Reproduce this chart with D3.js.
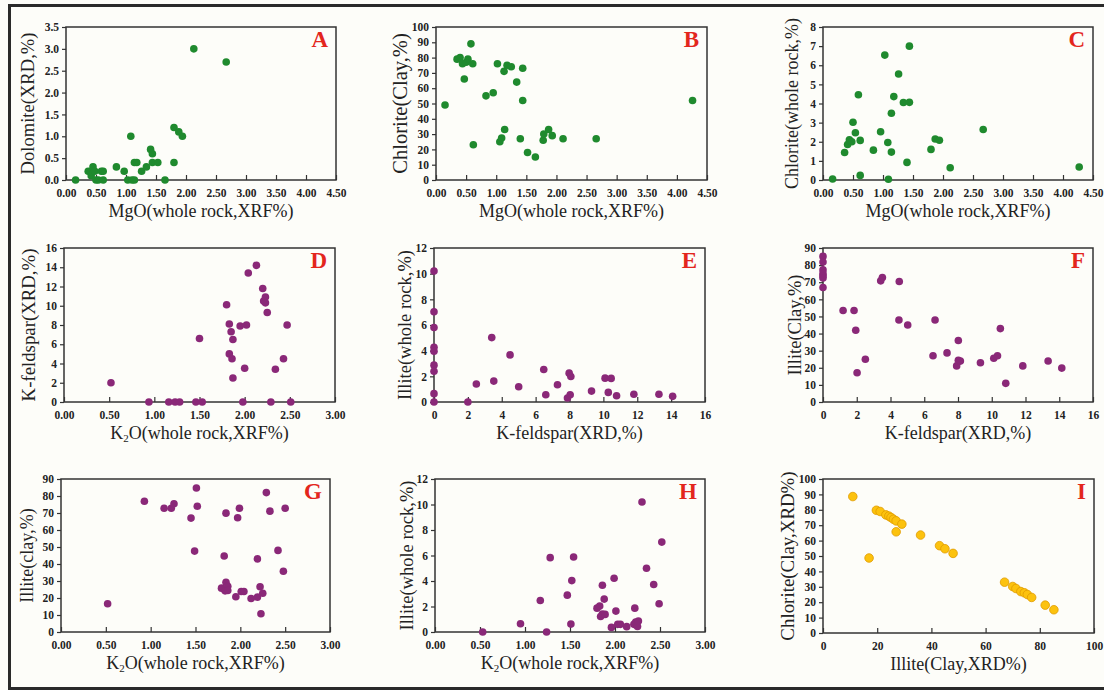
<!DOCTYPE html>
<html>
<head>
<meta charset="utf-8">
<script src="https://cdn.jsdelivr.net/npm/d3@7"></script>
<style>
  body { margin: 0; background: #fdfdf9; }
  svg { display: block; }
  text { font-family: "Liberation Serif", "Times New Roman", serif; fill: #222; }
</style>
</head>
<body>
<script>
// Panel A: MgO vs Dolomite
const aMgO = [0.16, 0.37, 0.45, 0.42, 0.48, 0.50, 0.54, 0.59, 0.62, 0.62, 0.84, 0.97, 1.03, 1.08, 1.10, 1.14, 1.14, 1.18, 1.26, 1.34, 1.41, 1.44, 1.44, 1.53, 1.65, 1.80, 1.80, 1.88, 1.94, 2.13, 2.67];
const aDolomite = [0, 0.2, 0.3, 0.1, 0.2, 0, 0, 0.2, 0.2, 0, 0.3, 0.2, 0, 1.0, 0, 0, 0.4, 0.4, 0.2, 0.3, 0.7, 0.6, 0.4, 0.4, 0, 1.2, 0.4, 1.1, 1.0, 3.0, 2.7];

// Panel B: MgO vs Chlorite (clay)
const bMgO = [0.15, 0.35, 0.40, 0.44, 0.47, 0.50, 0.53, 0.58, 0.61, 0.62, 0.83, 0.95, 1.02, 1.06, 1.09, 1.13, 1.14, 1.18, 1.25, 1.34, 1.40, 1.44, 1.44, 1.52, 1.65, 1.78, 1.79, 1.87, 1.93, 2.11, 2.66, 4.26];
const bChloriteClay = [49, 79, 80, 76, 66, 77, 79, 89, 76, 23, 55, 57, 76, 25, 27.5, 71, 33, 75, 74, 64, 27, 73, 52, 18, 15, 26, 30, 33, 29, 27, 27, 52];

// Panel C: MgO vs Chlorite (whole rock)
const cMgO = [0.16, 0.36, 0.41, 0.44, 0.48, 0.50, 0.54, 0.59, 0.62, 0.62, 0.84, 0.96, 1.03, 1.08, 1.09, 1.14, 1.14, 1.18, 1.26, 1.34, 1.40, 1.44, 1.44, 1.80, 1.87, 1.94, 2.12, 2.67, 4.27];
const cChloriteRock = [0.05, 1.44, 1.86, 2.1, 2.0, 3.02, 2.47, 4.46, 2.07, 0.24, 1.56, 2.52, 6.53, 1.96, 0.04, 1.46, 3.49, 4.36, 5.54, 4.05, 0.92, 4.06, 7.0, 1.6, 2.14, 2.08, 0.64, 2.64, 0.68];

// Panel D: K2O vs K-feldspar
const dK2O = [0.52, 0.94, 1.16, 1.23, 1.28, 1.46, 1.50, 1.53, 1.80, 1.83, 1.83, 1.85, 1.86, 1.87, 1.87, 1.95, 1.98, 2.00, 2.02, 2.04, 2.13, 2.20, 2.21, 2.23, 2.23, 2.25, 2.29, 2.34, 2.43, 2.47, 2.51];
const dKfeldspar = [2.0, 0, 0, 0, 0, 0, 6.6, 0, 10.1, 8.1, 5.0, 7.3, 4.5, 6.5, 2.5, 7.9, 0, 3.5, 8.0, 13.4, 14.2, 11.8, 10.5, 10.9, 10.3, 9.3, 0, 3.4, 4.5, 8.0, 0];

// Panel E: K-feldspar vs Illite (whole rock)
const eKfeldspar = [0, 0, 0, 0, 0, 0, 0, 0, 0, 2.0, 2.5, 3.41, 3.53, 4.49, 5.0, 6.48, 6.6, 7.29, 7.88, 7.98, 8.04, 8.08, 9.30, 10.1, 10.29, 10.46, 10.78, 11.8, 13.28, 14.09];
const eIlliteRock = [10.2, 7.03, 5.8, 4.27, 3.96, 2.87, 2.4, 0.65, 0, 0, 1.4, 5.02, 1.63, 3.67, 1.19, 2.53, 0.57, 1.34, 0.31, 2.25, 0.57, 1.99, 0.85, 1.86, 0.75, 1.84, 0.49, 0.6, 0.6, 0.44];

// Panel F: K-feldspar vs Illite (clay)
const fKfeldspar = [0, 0, 0, 0, 0, 0, 0, 1.19, 1.84, 1.94, 2.02, 2.51, 3.42, 3.52, 4.52, 4.5, 5.02, 6.52, 6.64, 7.35, 7.92, 8.02, 8.02, 8.14, 9.33, 10.12, 10.34, 10.51, 10.83, 11.84, 13.34, 14.15];
const fIlliteClay = [85.1, 81.8, 77.2, 75, 73.7, 72.5, 66.9, 53.5, 53.5, 41.9, 17.1, 25.0, 70.8, 72.7, 70.4, 47.9, 45.0, 27, 47.9, 28.7, 21.1, 35.9, 24.4, 23.9, 22.9, 25.6, 27, 42.9, 10.9, 21.1, 24.0, 19.8];

// Panel G: K2O vs Illite (clay)
const gK2O = [0.52, 0.93, 1.15, 1.23, 1.26, 1.45, 1.49, 1.51, 1.52, 1.79, 1.82, 1.83, 1.84, 1.84, 1.86, 1.86, 1.95, 1.97, 1.99, 2.01, 2.04, 2.12, 2.19, 2.19, 2.22, 2.23, 2.25, 2.29, 2.33, 2.42, 2.48, 2.50];
const gIlliteClay = [16.6, 76.9, 72.8, 72.8, 75.4, 67, 47.6, 84.7, 74, 25.8, 44.7, 24.2, 29.3, 69.9, 26.9, 24.4, 20.7, 67.2, 72.8, 23.8, 23.8, 19.7, 43, 20.5, 26.6, 10.7, 22.8, 82, 71.1, 48, 35.7, 72.8];

// Panel H: K2O vs Illite (whole rock)
const hK2O = [0.53, 0.95, 1.17, 1.24, 1.28, 1.47, 1.51, 1.52, 1.54, 1.80, 1.83, 1.84, 1.86, 1.86, 1.88, 1.89, 1.96, 1.99, 2.01, 2.03, 2.06, 2.13, 2.21, 2.22, 2.23, 2.25, 2.26, 2.30, 2.35, 2.43, 2.49, 2.52];
const hIlliteRock = [0, 0.65, 2.47, 0, 5.83, 2.89, 0.62, 4.03, 5.88, 1.87, 2.03, 1.22, 3.67, 1.4, 2.58, 1.38, 0.36, 4.22, 1.64, 0.6, 0.6, 0.42, 0.6, 1.87, 0.78, 0.44, 0.86, 10.2, 5.0, 3.72, 2.21, 7.05];

// Panel I: Illite (clay) vs Chlorite (clay)
const iIlliteClay = [11, 17, 19.7, 21.1, 23.2, 24.3, 25.1, 26.0, 27.0, 29.1, 27.0, 36, 43, 45, 48, 67, 70, 71.2, 73, 74.3, 75.4, 77, 82, 85.2];
const iChloriteClay = [88.6, 48.7, 79.7, 78.9, 76.7, 75.9, 75, 73.9, 72.8, 70.7, 65.7, 63.6, 56.7, 54.7, 51.7, 33, 30.2, 28.9, 26.9, 26.1, 25, 23.1, 18.1, 15.1];

// Tick values and titles
const mgoTicks = d3.range(0, 4.51, 0.5);
const k2oTicks = d3.range(0, 3.01, 0.5);
const kfsTicks = d3.range(0, 16.1, 2);
const mgoTitle = [{ t: "MgO(whole rock,XRF%)" }];
const k2oTitle = [{ t: "K" }, { t: "2", sub: true }, { t: "O(whole rock,XRF%)" }];

const GREEN = "#1f8a2e", PURPLE = "#8a2878", YELLOW = "#fcc20e";

const panels = [
  { id: "A", box: [66, 27, 336, 180], xs: aMgO, ys: aDolomite, xd: [0, 4.5], yd: [0, 3.5], xt: mgoTicks, yt: d3.range(0, 3.51, 0.5), xf: ".2f", yf: ".1f", xTitle: mgoTitle, yTitle: "Dolomite(XRD,%)", yTitleX: 27, yFs: 18.6, color: GREEN },
  { id: "B", box: [436, 27, 707, 180], xs: bMgO, ys: bChloriteClay, xd: [0, 4.5], yd: [0, 100], xt: mgoTicks, yt: d3.range(0, 101, 10), xf: ".2f", yf: "d", xTitle: mgoTitle, yTitle: "Chlorite(Clay,%)", yTitleX: 400, yFs: 20.5, color: GREEN },
  { id: "C", box: [823, 27, 1093, 180], xs: cMgO, ys: cChloriteRock, xd: [0, 4.5], yd: [0, 8], xt: mgoTicks, yt: d3.range(0, 8.1, 1), xf: ".2f", yf: "d", xTitle: mgoTitle, yTitle: "Chlorite(whole rock,%)", yTitleX: 792, yFs: 18, color: GREEN },
  { id: "D", box: [64, 248, 335, 402], xs: dK2O, ys: dKfeldspar, xd: [0, 3], yd: [0, 16], xt: k2oTicks, yt: d3.range(0, 16.1, 2), xf: ".2f", yf: "d", xTitle: k2oTitle, yTitle: "K-feldspar(XRD,%)", yTitleX: 28, yFs: 18.8, color: PURPLE },
  { id: "E", box: [434, 248, 705, 402], xs: eKfeldspar, ys: eIlliteRock, xd: [0, 16], yd: [0, 12], xt: kfsTicks, yt: d3.range(0, 12.1, 2), xf: "d", yf: "d", xTitle: [{ t: "K-feldspar(XRD,%)" }], yTitle: "Illite(whole rock,%)", yTitleX: 405, yFs: 18.5, color: PURPLE },
  { id: "F", box: [823, 248, 1093, 402], xs: fKfeldspar, ys: fIlliteClay, xd: [0, 16], yd: [0, 90], xt: kfsTicks, yt: d3.range(0, 91, 10), xf: "d", yf: "d", xTitle: [{ t: "K-feldspar(XRD,%)" }], yTitle: "Illite(Clay,%)", yTitleX: 795, yFs: 18.5, color: PURPLE },
  { id: "G", box: [61, 479, 330, 632], xs: gK2O, ys: gIlliteClay, xd: [0, 3], yd: [0, 90], xt: k2oTicks, yt: d3.range(0, 91, 10), xf: ".2f", yf: "d", xTitle: k2oTitle, yTitle: "Illite(clay,%)", yTitleX: 27, yFs: 18, color: PURPLE },
  { id: "H", box: [435, 479, 705, 632], xs: hK2O, ys: hIlliteRock, xd: [0, 3], yd: [0, 12], xt: k2oTicks, yt: d3.range(0, 12.1, 2), xf: ".2f", yf: "d", xTitle: k2oTitle, yTitle: "Illite(whole rock,%)", yTitleX: 407, yFs: 18.5, color: PURPLE },
  { id: "I", box: [823, 479, 1094, 633], xs: iIlliteClay, ys: iChloriteClay, xd: [0, 100], yd: [0, 100], xt: d3.range(0, 101, 20), yt: d3.range(0, 101, 10), xf: "d", yf: "d", xTitle: [{ t: "Illite(Clay,XRD%)" }], yTitle: "Chlorite(Clay,XRD%)", yTitleX: 787, yFs: 18.9, color: YELLOW, stroke: "#e09a00", r: 4.3 }
];

const W = 1104, H = 690;
const svg = d3.select("body").append("svg").attr("width", W).attr("height", H);

// outer frame
svg.append("path")
  .attr("d", `M9.5,${H + 5} L9.5,5.5 L${W + 5},5.5 M9.5,688.5 L${W + 5},688.5`)
  .attr("fill", "none").attr("stroke", "#2a2a2a").attr("stroke-width", 3);

panels.forEach(p => {
  const [x0, y0, x1, y1] = p.box;
  const x = d3.scaleLinear().domain(p.xd).range([x0, x1]);
  const y = d3.scaleLinear().domain(p.yd).range([y1, y0]);
  const g = svg.append("g");

  // frame
  g.append("rect")
    .attr("x", x0).attr("y", y0).attr("width", x1 - x0).attr("height", y1 - y0)
    .attr("fill", "none").attr("stroke", "#333").attr("stroke-width", 1.5);

  // x axis, ticks pointing inward
  const xa = g.append("g")
    .attr("transform", `translate(0,${y1})`)
    .call(d3.axisBottom(x).tickValues(p.xt).tickFormat(d3.format(p.xf)).tickSizeInner(-5).tickSizeOuter(0).tickPadding(9));
  xa.select(".domain").remove();
  xa.selectAll("line").attr("stroke", "#333").attr("stroke-width", 1.2);
  xa.selectAll("text").attr("font-size", 11.5).attr("font-weight", "bold")
    .attr("font-family", "Liberation Serif, Times New Roman, serif").attr("fill", "#333");

  // y axis, ticks pointing outward
  const ya = g.append("g")
    .attr("transform", `translate(${x0},0)`)
    .call(d3.axisLeft(y).tickValues(p.yt).tickFormat(d3.format(p.yf)).tickSizeInner(4).tickSizeOuter(0).tickPadding(3));
  ya.select(".domain").remove();
  ya.selectAll("line").attr("stroke", "#333").attr("stroke-width", 1.2);
  ya.selectAll("text").attr("font-size", 11.5).attr("font-weight", "bold")
    .attr("font-family", "Liberation Serif, Times New Roman, serif").attr("fill", "#333");

  // points
  g.selectAll("circle")
    .data(p.xs.map((v, i) => [v, p.ys[i]]))
    .join("circle")
    .attr("cx", d => x(d[0]))
    .attr("cy", d => y(d[1]))
    .attr("r", p.r || 3.8)
    .attr("fill", p.color)
    .attr("stroke", p.stroke || "none")
    .attr("stroke-width", 0.8);

  // panel letter
  g.append("text")
    .attr("x", x1 - 8).attr("y", y0 + 20)
    .attr("text-anchor", "end")
    .attr("font-size", 23).attr("font-weight", "bold")
    .style("fill", "#e3261d")
    .text(p.id);

  // x title
  const xt = g.append("text")
    .attr("x", (x0 + x1) / 2).attr("y", y1 + 37)
    .attr("text-anchor", "middle")
    .attr("font-size", 18);
  p.xTitle.forEach(s => {
    const ts = xt.append("tspan").text(s.t);
    if (s.sub) ts.attr("font-size", 11).attr("dy", 3);
    else if (p.xTitle.length > 1 && s !== p.xTitle[0]) ts.attr("dy", -3);
  });

  // y title
  g.append("text")
    .attr("transform", `translate(${p.yTitleX},${(y0 + y1) / 2}) rotate(-90)`)
    .attr("text-anchor", "middle")
    .attr("dy", "0.35em")
    .attr("font-size", p.yFs)
    .text(p.yTitle);
});
</script>
</body>
</html>
